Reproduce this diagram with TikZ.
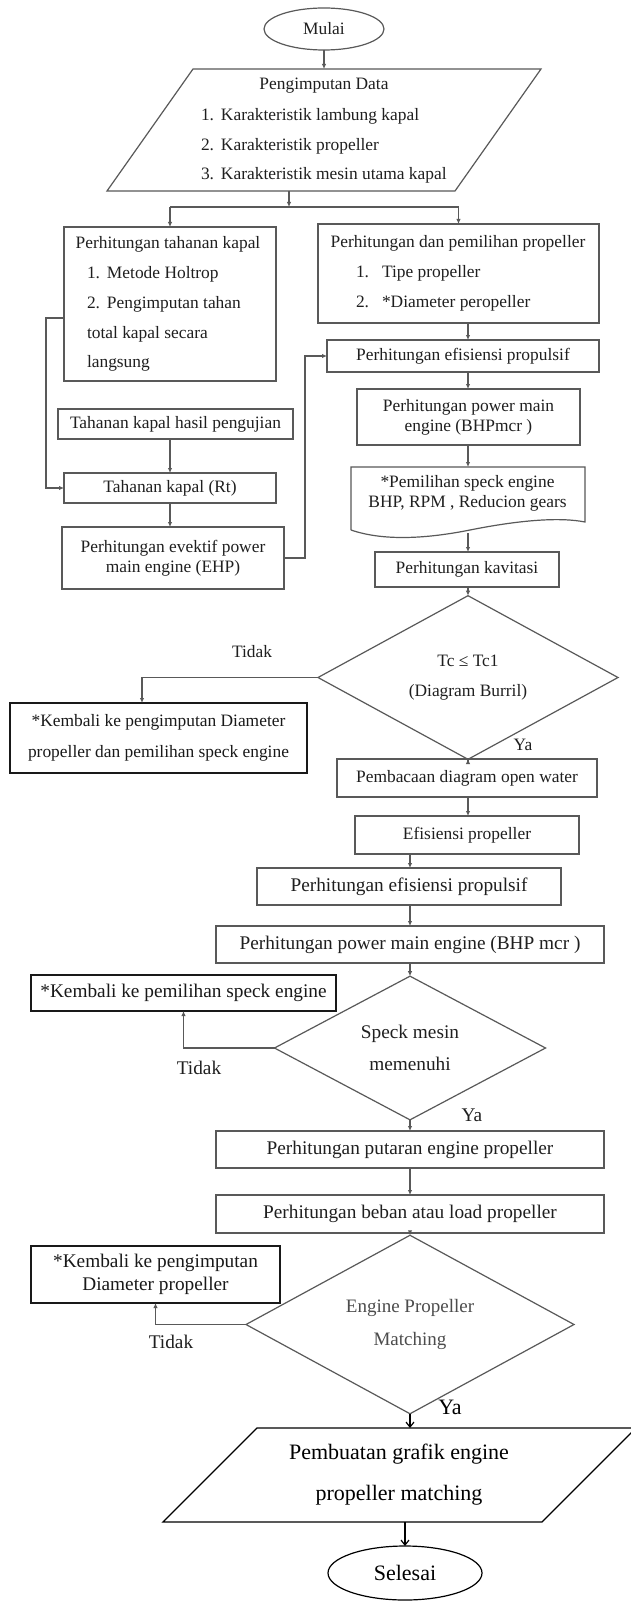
\documentclass[tikz,border=0pt]{standalone}
\usepackage{fontspec}
\setmainfont{Liberation Serif}
\usetikzlibrary{shapes.geometric,arrows.meta,calc}
\newcommand\fa{\fontsize{17.4pt}{20pt}\selectfont}
\newcommand\fb{\fontsize{19.3pt}{22pt}\selectfont}
\newcommand\fc{\fontsize{22pt}{26pt}\selectfont}
\definecolor{linec}{gray}{0.35}
\definecolor{txtc}{gray}{0.12}
\begin{document}
\begin{tikzpicture}[x=1pt,y=-1pt,
  box/.style={draw=linec, line width=1.2pt, rectangle, inner sep=0pt, outer sep=0pt, text=txtc, font=\fa, align=center},
  kbox/.style={draw=black!90, line width=2.4pt, rectangle, inner sep=0pt, outer sep=0pt, text=black!90, align=center},
  dia/.style={draw=linec, line width=1.2pt, diamond, inner sep=0pt, outer sep=0pt, text=txtc, align=center},
  oval/.style={ellipse, inner sep=0pt, outer sep=0pt, align=center},
  ghost/.style={rectangle, inner sep=0pt, outer sep=0pt, text=txtc, align=center},
  tx/.style={inner sep=0pt, outer sep=0pt, text=txtc, font=\fa},
  lin/.style={draw=linec, line width=1.1pt},
  arr/.style={draw=linec, line width=1.1pt, -{Latex[length=5pt,width=4.5pt]}},
  barr/.style={draw=black, line width=1.2pt, -{Straight Barb[length=5pt,width=8pt]}}
]
\useasboundingbox (0,0) rectangle (631,1602);
\fill[white] (0,0) rectangle (631,1602);

% ---------- top ----------
\node[oval, draw=linec, line width=1.2pt, minimum width=120pt, minimum height=42pt, text=txtc, font=\fa] (mulai) at (324,29) {Mulai};

\node[ghost, minimum width=348pt, minimum height=122pt] (input) at (324,130) {};
\draw[lin, line width=1.2pt] (193,69) -- (541,69) -- (455,191) -- (107,191) -- cycle;
\node[tx] (inT) at (324,86) {Pengimputan Data};
\node[tx, anchor=west] (in1) at (201,116) {\makebox[20pt][l]{1.}Karakteristik lambung kapal};
\node[tx, anchor=west] (in2) at (201,146) {\makebox[20pt][l]{2.}Karakteristik propeller};
\node[tx, anchor=west] (in3) at (201,175) {\makebox[20pt][l]{3.}Karakteristik mesin utama kapal};

% ---------- left column ----------
\node[box, minimum width=212pt, minimum height=154pt] (hk) at (170,304) {};
\node[tx] (hkT) at (168,244) {Perhitungan tahanan kapal};
\node[tx, anchor=west] (hk1) at (87,274) {\makebox[20pt][l]{1.}Metode Holtrop};
\node[tx, anchor=west] (hk2) at (87,304) {\makebox[20pt][l]{2.}Pengimputan tahan};
\node[tx, anchor=west] (hk3) at (87,334) {total kapal secara};
\node[tx, anchor=west] (hk4) at (87,363) {langsung};

\node[box, minimum width=235pt, minimum height=30pt] (th) at (175.5,424) {Tahanan kapal hasil pengujian};
\node[box, minimum width=212pt, minimum height=30pt] (rt) at (170,488) {Tahanan kapal (Rt)};
\node[box, minimum width=222pt, minimum height=62pt] (ehp) at (173,558) {Perhitungan evektif power\\main engine (EHP)};

% ---------- right column ----------
\node[box, minimum width=281pt, minimum height=99pt] (pp) at (458.5,273.5) {};
\node[tx] (ppT) at (458,243) {Perhitungan dan pemilihan propeller};
\node[tx, anchor=west] (pp1) at (356,273) {\makebox[26pt][l]{1.}Tipe propeller};
\node[tx, anchor=west] (pp2) at (356,303) {\makebox[26pt][l]{2.}*Diameter peropeller};

\node[box, minimum width=272pt, minimum height=32pt] (ep1) at (463,356) {Perhitungan efisiensi propulsif};
\node[box, minimum width=223pt, minimum height=56pt] (bhp1) at (468.5,417) {Perhitungan power main\\engine (BHPmcr )};
\node[ghost, font=\fa, minimum width=235pt, minimum height=52pt] (doc) at (467.5,493) {*Pemilihan speck engine\\BHP, RPM , Reducion gears};
\draw[lin, line width=1.2pt] (351,530) -- (351,467) -- (585,467) -- (585,522)
   .. controls (560,517) and (520,520) .. (470,530)
   .. controls (420,540) and (380,540) .. (351,530);
\coordinate (docb) at (468,533);
\node[box, minimum width=184pt, minimum height=35pt] (kav) at (467,569.5) {Perhitungan kavitasi};

\node[dia, font={\fontsize{17.4pt}{30pt}\selectfont}, minimum width=300pt, minimum height=125pt] (d1) at (468,677.5) {Tc ≤ Tc1\\(Diagram Burril)};
\node[kbox, font={\fontsize{17.4pt}{31pt}\selectfont}, minimum width=297pt, minimum height=70pt] (k1) at (158.5,738) {*Kembali ke pengimputan Diameter\\propeller dan pemilihan speck engine};
\node[tx] (t1) at (252,652) {Tidak};
\node[tx] (y1) at (523,745) {Ya};

\node[box, minimum width=260pt, minimum height=38pt] (ow) at (467,778) {Pembacaan diagram open water};
\node[box, minimum width=224pt, minimum height=38pt] (ef) at (467,835) {Efisiensi propeller};

% ---------- lower part ----------
\node[box, font=\fb, minimum width=304pt, minimum height=37pt] (ep2) at (409,886.5) {Perhitungan efisiensi propulsif};
\node[box, font=\fb, minimum width=388pt, minimum height=37pt] (bhp2) at (410,944.5) {Perhitungan power main engine (BHP mcr )};

\node[dia, font={\fontsize{19.3pt}{32pt}\selectfont}, minimum width=271pt, minimum height=128pt] (d2) at (410,1048) {Speck mesin\\memenuhi};
\node[kbox, font=\fb, minimum width=305pt, minimum height=36pt] (k2) at (183.5,993) {*Kembali ke pemilihan speck engine};
\node[tx, font=\fb] (t2) at (199,1068) {Tidak};
\node[tx, font=\fb] (y2) at (472,1115) {Ya};

\node[box, font=\fb, minimum width=388pt, minimum height=37pt] (pu) at (410,1149.5) {Perhitungan putaran engine propeller};
\node[box, font=\fb, minimum width=388pt, minimum height=38pt] (bb) at (410,1214) {Perhitungan beban atau load propeller};

\node[dia, text=black!70, font={\fontsize{19pt}{33pt}\selectfont}, minimum width=328pt, minimum height=139pt] (d3) at (410,1324.5) {Engine Propeller\\Matching};
\node[kbox, font={\fontsize{19.3pt}{23pt}\selectfont}, minimum width=249pt, minimum height=57pt] (k3) at (155.5,1274.5) {*Kembali ke pengimputan\\Diameter propeller};
\node[tx, font=\fb] (t3) at (171,1342) {Tidak};
\node[tx, font=\fc, text=black] (y3) at (450,1407) {Ya};

\node[ghost, text=black, font={\fontsize{22pt}{41pt}\selectfont}, minimum width=380pt, minimum height=94pt] (par2) at (399,1475) {Pembuatan grafik engine\\propeller matching};
\begin{scope}
\clip (0,0) rectangle (631,1602);
\draw[black, line width=1.3pt] (257,1428) -- (636,1428) -- (542,1522) -- (163,1522) -- cycle;
\end{scope}
\node[oval, draw=black, line width=1.2pt, minimum width=154pt, minimum height=54pt, font=\fc] (sel) at (405,1573) {Selesai};

% ---------- connectors ----------
\coordinate (split) at (289,207);
\coordinate (fbx) at (46,318);
\coordinate (cr) at (305,0);
\coordinate (col) at (468,0);
\coordinate (col2) at (410,0);
\coordinate (c1) at (142,0);

\draw[arr] (mulai.south) -- (input.north);
\draw[arr] (input.south -| split) -- (split);
\draw[lin] (hk.north |- split) -- (pp.north |- split);
\draw[arr] (hk.north |- split) -- (hk.north);
\draw[arr] (pp.north |- split) -- (pp.north);

\draw[arr] (hk.west |- fbx) -- (fbx) |- (rt.west);
\draw[arr] (th.south -| rt.north) -- (rt.north);
\draw[arr] (rt.south) -- (rt.south |- ehp.north);
\draw[arr] (ehp.east) -- (ehp.east -| cr) |- (ep1.west);

\draw[arr] (pp.south -| col) -- (ep1.north -| col);
\draw[arr] (ep1.south -| col) -- (bhp1.north -| col);
\draw[arr] (bhp1.south -| col) -- (doc.north -| col);
\draw[arr] (docb) -- (kav.north -| col);
\draw[arr] (kav.south -| col) -- (d1.north);
\draw[arr] (d1.west) -| (k1.north -| c1);
\draw[arr] (d1.south) -- (d1.south |- ow.north);
\draw[arr] (ow.south -| col) -- (ef.north -| col);
\draw[arr] (ef.south -| col2) -- (ep2.north -| col2);
\draw[arr] (ep2.south -| col2) -- (bhp2.north -| col2);
\draw[arr] (bhp2.south -| col2) -- (d2.north);
\draw[arr] (d2.west) -| (k2.south);
\draw[arr] (d2.south) -- (pu.north);
\draw[arr] (pu.south) -- (bb.north);
\draw[arr] (bb.south) -- (d3.north);
\draw[arr] (d3.west) -| (k3.south);
\draw[barr] (d3.south) -- (d3.south |- par2.north);
\draw[barr] (par2.south -| sel.north) -- (sel.north);
\end{tikzpicture}
\end{document}
